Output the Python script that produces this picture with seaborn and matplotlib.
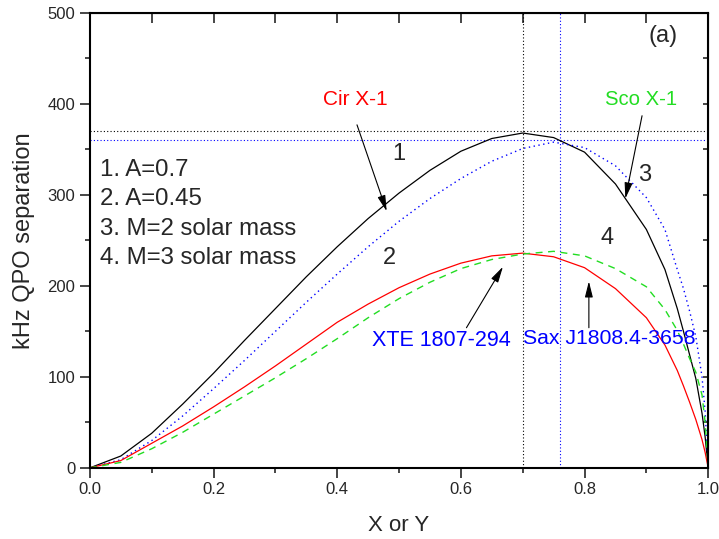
import numpy as np
import pandas as pd
import matplotlib
matplotlib.use("Agg")
import matplotlib.pyplot as plt
import seaborn as sns

# values
x_vals = [0, 0.05, 0.1, 0.15, 0.2, 0.25, 0.3, 0.35, 0.4, 0.45, 0.5, 0.55, 0.6, 0.65,
          0.7, 0.75, 0.8, 0.85, 0.9, 0.93, 0.95, 0.96, 0.97, 0.98, 0.99, 0.995, 1.0]
curve_1 = [0, 13, 38, 70, 104, 140, 175, 210, 243, 274, 302, 327, 348, 362,
           368, 363, 347, 312, 262, 218, 175, 150, 124, 98, 60, 34, 0]
curve_3 = [0, 9, 30, 57, 87, 118, 150, 182, 213, 243, 271, 296, 318, 337,
           351, 358, 352, 332, 297, 262, 218, 197, 172, 144, 100, 62, 0]
curve_2 = [0, 8, 27, 46, 67, 89, 112, 136, 160, 180, 198, 213, 225, 233,
           236, 232, 220, 197, 165, 135, 107, 90, 72, 53, 31, 17, 0]
curve_4 = [0, 6, 21, 39, 59, 79, 99, 120, 142, 165, 186, 204, 219, 229,
           235, 238, 233, 219, 199, 174, 151, 136, 120, 105, 80, 50, 0]

h_lines = [370, 360]
v_lines = [0.70, 0.76]
legend_lines = ["1. A=0.7", "2. A=0.45", "3. M=2 solar mass", "4. M=3 solar mass"]

sns.set_style("white")
plt.rcParams['font.family'] = ['Liberation Sans', 'DejaVu Sans']

fig = plt.figure(figsize=(7.19, 5.39), dpi=100)
ax = fig.add_axes([0.125, 0.132, 0.86, 0.844])

# reference lines
ax.axhline(h_lines[0], color="black", ls=(0, (1, 2)), lw=0.8)
ax.axhline(h_lines[1], color="blue", ls=(0, (1, 2)), lw=0.8)
ax.axvline(v_lines[0], color="black", ls=(0, (1, 2)), lw=0.8)
ax.axvline(v_lines[1], color="blue", ls=(0, (1, 2)), lw=0.8)

sns.lineplot(x=x_vals, y=curve_1, ax=ax, color="black", lw=0.9)
sns.lineplot(x=x_vals, y=curve_3, ax=ax, color="blue", lw=1.0, linestyle=(0, (1, 2.5)))
sns.lineplot(x=x_vals, y=curve_2, ax=ax, color="red", lw=0.9)
sns.lineplot(x=x_vals, y=curve_4, ax=ax, color="#22dd22", lw=1.0, linestyle=(0, (5, 4)))

ax.set_xlim(0, 1)
ax.set_ylim(0, 500)
ax.set_xticks(np.arange(0, 1.01, 0.2))
ax.set_xticks(np.arange(0, 1.01, 0.1), minor=True)
ax.set_yticks(np.arange(0, 501, 100))
ax.set_yticks(np.arange(0, 501, 50), minor=True)
ax.set_xticklabels([f"{v:.1f}" for v in np.arange(0, 1.01, 0.2)])
ax.tick_params(which="major", direction="out", length=7, width=1.2, labelsize=12,
               top=False, right=False, bottom=True, left=True)
ax.tick_params(which="minor", direction="out", length=3.5, width=1.2,
               top=False, right=False, bottom=True, left=True)
for sp in ax.spines.values():
    sp.set_linewidth(1.5)
    sp.set_color("black")

# mirrored inward ticks on top and right
top = ax.secondary_xaxis("top")
top.set_xticks(np.arange(0, 1.01, 0.1))
top.set_xticklabels([])
top.tick_params(direction="in", length=7, width=1.2)
right = ax.secondary_yaxis("right")
right.set_yticks(np.arange(0, 501, 50))
right.set_yticklabels([])
right.tick_params(direction="in", length=3.5, width=1.2)

ax.set_xlabel("X or Y", fontsize=16, labelpad=13)
ax.set_ylabel("kHz QPO separation", fontsize=17, labelpad=9)

# text labels
ax.text(0.927, 475, "(a)", fontsize=17, ha="center", va="center")
ax.text(0.43, 405, "Cir X-1", color="red", fontsize=15, ha="center", va="center")
ax.text(0.892, 405, "Sco X-1", color="#22dd22", fontsize=14.6, ha="center", va="center")
ax.text(0.569, 140, "XTE 1807-294", color="blue", fontsize=15.5, ha="center", va="center")
ax.text(0.84, 142, "Sax J1808.4-3658", color="blue", fontsize=15.3, ha="center", va="center")
for lbl, (tx, ty) in zip(["1", "2", "3", "4"],
                         [(0.50, 345), (0.484, 231), (0.897, 322), (0.837, 253)]):
    ax.text(tx, ty, lbl, fontsize=17, ha="center", va="center")
for i, line in enumerate(legend_lines):
    ax.text(0.016, 327.6 - i * 32.4, line, fontsize=17.3, ha="left", va="center")

arrow = dict(arrowstyle="-|>,head_width=0.2,head_length=0.8", color="black",
             lw=0.8, shrinkA=0, shrinkB=0, mutation_scale=12)
ax.annotate("", xy=(0.48, 282), xytext=(0.432, 377), arrowprops=arrow)
ax.annotate("", xy=(0.866, 296), xytext=(0.893, 387), arrowprops=arrow)
ax.annotate("", xy=(0.668, 221), xytext=(0.609, 154), arrowprops=arrow)
ax.annotate("", xy=(0.807, 205), xytext=(0.807, 154), arrowprops=arrow)

fig.savefig("out.png", dpi=100)
